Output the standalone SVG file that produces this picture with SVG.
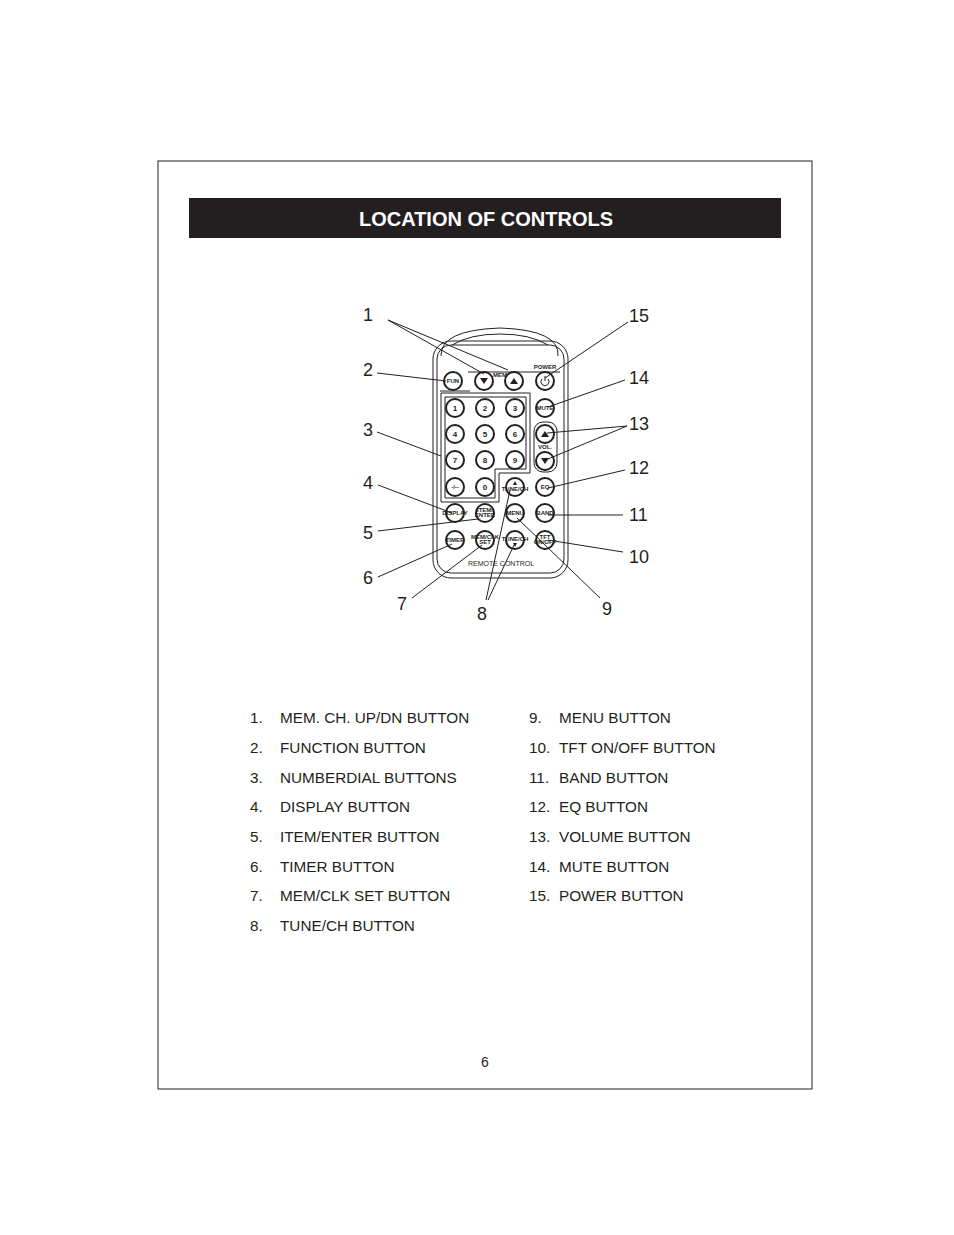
<svg xmlns="http://www.w3.org/2000/svg" width="954" height="1235" viewBox="0 0 954 1235">
<style>
.t{font-family:"Liberation Sans",Arial,sans-serif;fill:#231f20}
.lab{font-size:18px}
.li{font-size:15.3px}
.b{fill:#fff;stroke:#231f20;stroke-width:2}
.bt{font-family:"Liberation Sans",Arial,sans-serif;font-size:6px;font-weight:bold;text-anchor:middle;fill:#231f20}
.bn{font-family:"Liberation Sans",Arial,sans-serif;font-size:8px;font-weight:bold;text-anchor:middle;fill:#231f20}
.ln{stroke:#231f20;stroke-width:1;fill:none}
.o{fill:none;stroke:#231f20;stroke-width:1}
</style>
<rect x="158" y="161" width="654" height="928" fill="#fff" stroke="#231f20" stroke-width="1"/>
<g id="header"><rect x="189" y="198" width="592" height="40" fill="#231f20"/>
<text x="486" y="226" text-anchor="middle" font-family="Liberation Sans,Arial,sans-serif" font-size="20" font-weight="bold" fill="#fff">LOCATION OF CONTROLS</text></g>
<g id="remote">
<path class="o" d="M441,356 Q440,330 500,328 Q560,330 558,356"/>
<path class="o" d="M452,345 Q470,334 500,334 Q530,334 548,345"/>
<rect class="o" x="433" y="341" width="135" height="237" rx="18"/>
<rect class="o" x="437" y="345" width="127" height="228" rx="14"/>
<path class="o" d="M468,372 H560 M440,391 H470"/>
<path class="o" d="M441,393 H530 V473 H499 V502 H441 Z"/>
<path class="o" d="M445,397 H526 V469 H495 V498 H445 Z"/>
<rect class="o" x="534" y="422" width="23" height="50" rx="9"/>
<text class="bt" x="545" y="369" font-size="5">POWER</text>
<text class="bt" x="500" y="377" font-size="5">MEM</text>
<text class="bt" x="545" y="449" font-size="5">VOL.</text>
<text x="501" y="566" text-anchor="middle" font-family="Liberation Sans,Arial,sans-serif" font-size="7" fill="#231f20">REMOTE CONTROL</text>
</g>
<g id="buttons">
<g id="b-fun"><circle class="b" cx="453" cy="381" r="9"/><text class="bt" x="453" y="383" font-size="5">FUN</text></g>
<g id="b-memdn"><circle class="b" cx="484" cy="381" r="9"/><path d="M480,378 H488 L484,384 Z" fill="#231f20"/></g>
<g id="b-memup"><circle class="b" cx="514" cy="381" r="9"/><path d="M510,384 H518 L514,378 Z" fill="#231f20"/></g>
<g id="b-power"><circle class="b" cx="545" cy="381" r="9"/><path d="M542,379 A4,4 0 1 0 548,379" class="ln"/><path d="M545,376 V381" class="ln"/></g>
<g id="b1"><circle class="b" cx="455" cy="408" r="9"/><text class="bn" x="455" y="411">1</text></g>
<g id="b2"><circle class="b" cx="485" cy="408" r="9"/><text class="bn" x="485" y="411">2</text></g>
<g id="b3"><circle class="b" cx="515" cy="408" r="9"/><text class="bn" x="515" y="411">3</text></g>
<g id="b4"><circle class="b" cx="455" cy="434" r="9"/><text class="bn" x="455" y="437">4</text></g>
<g id="b5"><circle class="b" cx="485" cy="434" r="9"/><text class="bn" x="485" y="437">5</text></g>
<g id="b6"><circle class="b" cx="515" cy="434" r="9"/><text class="bn" x="515" y="437">6</text></g>
<g id="b7"><circle class="b" cx="455" cy="460" r="9"/><text class="bn" x="455" y="463">7</text></g>
<g id="b8"><circle class="b" cx="485" cy="460" r="9"/><text class="bn" x="485" y="463">8</text></g>
<g id="b9"><circle class="b" cx="515" cy="460" r="9"/><text class="bn" x="515" y="463">9</text></g>
<g id="bdash"><circle class="b" cx="455" cy="487" r="9"/><text class="bt" x="455" y="489">-/--</text></g>
<g id="b0"><circle class="b" cx="485" cy="487" r="9"/><text class="bn" x="485" y="490">0</text></g>
<g id="b-tuneup"><circle class="b" cx="515" cy="487" r="9"/><path d="M513,485 H517 L515,481 Z" fill="#231f20"/><text class="bt" x="515" y="491" font-size="4.5">TUNE/CH</text></g>
<g id="b-mute"><circle class="b" cx="545" cy="408" r="9"/><text class="bt" x="545" y="410" font-size="5">MUTE</text></g>
<g id="b-volup"><circle class="b" cx="545" cy="434" r="9"/><path d="M541,437 H549 L545,431 Z" fill="#231f20"/></g>
<g id="b-voldn"><circle class="b" cx="545" cy="461" r="9"/><path d="M541,458 H549 L545,464 Z" fill="#231f20"/></g>
<g id="b-eq"><circle class="b" cx="545" cy="487" r="9"/><text class="bt" x="545" y="489" font-size="5">EQ</text></g>
<g id="b-display"><circle class="b" cx="455" cy="513" r="9"/><text class="bt" x="455" y="515" font-size="4.5">DISPLAY</text></g>
<g id="b-item"><circle class="b" cx="485" cy="513" r="9"/><text class="bt" x="485" y="512" font-size="4.5">ITEM/</text><text class="bt" x="485" y="517" font-size="4.5">ENTER</text></g>
<g id="b-menu"><circle class="b" cx="515" cy="513" r="9"/><text class="bt" x="515" y="515" font-size="5">MENU</text></g>
<g id="b-band"><circle class="b" cx="545" cy="513" r="9"/><text class="bt" x="545" y="515" font-size="5">BAND</text></g>
<g id="b-timer"><circle class="b" cx="455" cy="540" r="9"/><text class="bt" x="455" y="542" font-size="5">TIMER</text></g>
<g id="b-memclk"><circle class="b" cx="485" cy="540" r="9"/><text class="bt" x="485" y="539" font-size="4" font-weight="normal">MEM/CLK</text><text class="bt" x="485" y="544" font-size="4" font-weight="normal">SET</text></g>
<g id="b-tunedn"><circle class="b" cx="515" cy="540" r="9"/><text class="bt" x="515" y="541" font-size="4.5">TUNE/CH</text><path d="M513,543 H517 L515,547 Z" fill="#231f20"/></g>
<g id="b-tft"><circle class="b" cx="545" cy="540" r="9"/><text class="bt" x="545" y="539" font-size="5">TFT</text><text class="bt" x="545" y="544" font-size="4.5">ON/OFF</text></g>
</g>
<g id="connectors" class="ln">
<path d="M388,320 L484,374 M388,320 L508,370"/>
<path d="M377,373 L446,381"/>
<path d="M377,432 L441,456"/>
<path d="M378,485 L452,513"/>
<path d="M378,531 L478,519"/>
<path d="M378,577 L452,544"/>
<path d="M412,598 L482,545"/>
<path d="M486,600 L510,490 M488,600 L514,545"/>
<path d="M600,598 L517,518"/>
<path d="M623,552 L548,540"/>
<path d="M623,515 L548,515"/>
<path d="M625,470 L548,488"/>
<path d="M627,426 L547,433 M627,426 L548,459"/>
<path d="M625,380 L548,407"/>
<path d="M628,322 L545,378"/>
</g>
<g id="labels" class="t lab">
<text x="363" y="321">1</text><text x="363" y="376">2</text><text x="363" y="436">3</text><text x="363" y="489">4</text><text x="363" y="539">5</text><text x="363" y="584">6</text><text x="397" y="610">7</text><text x="477" y="620">8</text><text x="602" y="615">9</text>
<text x="629" y="563">10</text><text x="629" y="521">11</text><text x="629" y="474">12</text><text x="629" y="430">13</text><text x="629" y="384">14</text><text x="629" y="322">15</text>
</g>
<g id="list" class="t li">
<text x="250" y="723">1.</text><text x="280" y="723">MEM. CH. UP/DN BUTTON</text>
<text x="250" y="753">2.</text><text x="280" y="753">FUNCTION BUTTON</text>
<text x="250" y="783">3.</text><text x="280" y="783">NUMBERDIAL BUTTONS</text>
<text x="250" y="812">4.</text><text x="280" y="812">DISPLAY BUTTON</text>
<text x="250" y="842">5.</text><text x="280" y="842">ITEM/ENTER BUTTON</text>
<text x="250" y="872">6.</text><text x="280" y="872">TIMER BUTTON</text>
<text x="250" y="901">7.</text><text x="280" y="901">MEM/CLK SET BUTTON</text>
<text x="250" y="931">8.</text><text x="280" y="931">TUNE/CH BUTTON</text>
<text x="529" y="723">9.</text><text x="559" y="723">MENU BUTTON</text>
<text x="529" y="753">10.</text><text x="559" y="753">TFT ON/OFF BUTTON</text>
<text x="529" y="783">11.</text><text x="559" y="783">BAND BUTTON</text>
<text x="529" y="812">12.</text><text x="559" y="812">EQ BUTTON</text>
<text x="529" y="842">13.</text><text x="559" y="842">VOLUME BUTTON</text>
<text x="529" y="872">14.</text><text x="559" y="872">MUTE BUTTON</text>
<text x="529" y="901">15.</text><text x="559" y="901">POWER BUTTON</text>
</g>
<text class="t" x="485" y="1067" text-anchor="middle" font-size="14">6</text>
</svg>
